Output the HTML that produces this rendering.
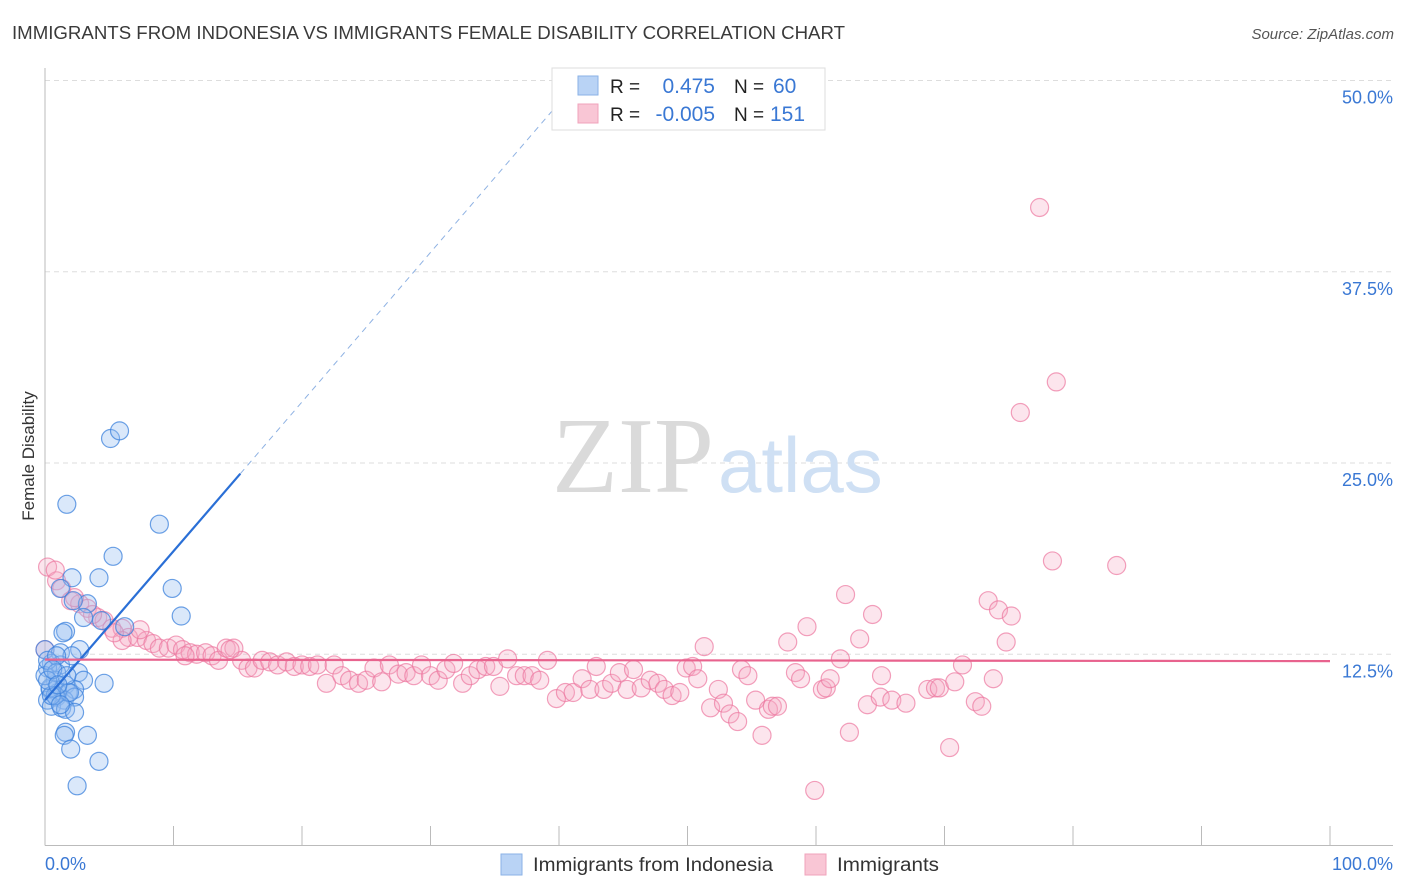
<!DOCTYPE html>
<html><head><meta charset="utf-8">
<style>
body{margin:0;background:#fff;font-family:"Liberation Sans",sans-serif;}
svg{display:block}
</style></head>
<body>
<svg id="chart" width="1406" height="892">
<text x="12" y="39" font-size="18" fill="#3a3a3a" textLength="833" lengthAdjust="spacingAndGlyphs">IMMIGRANTS FROM INDONESIA VS IMMIGRANTS FEMALE DISABILITY CORRELATION CHART</text>
<text x="1394" y="39" font-size="15" fill="#555" font-style="italic" text-anchor="end">Source: ZipAtlas.com</text>
<text x="34" y="456" font-size="17" fill="#333" text-anchor="middle" transform="rotate(-90 34 456)">Female Disability</text>
<g id="grid"></g>
<text x="714" y="492" font-size="108" fill="#dadada" text-anchor="end" font-family="Liberation Serif,serif">ZIP</text>
<text x="718" y="492" font-size="78" fill="#cfe0f4">atlas</text>
<g id="pink"></g>
<g id="blue"></g>
<g id="trend"></g>
<g>
<rect x="552" y="68" width="273" height="62" fill="#fff" stroke="#ddd"/>
<rect x="578" y="76" width="20" height="19" fill="#b9d3f5" stroke="#8ab2e6"/>
<rect x="578" y="104" width="20" height="19" fill="#f9c6d5" stroke="#f0a3bb"/>
<text x="610" y="93" font-size="19" fill="#222">R =</text>
<text x="715" y="93" font-size="21" fill="#3a78d4" text-anchor="end">0.475</text>
<text x="734" y="93" font-size="19" fill="#222">N =</text>
<text x="773" y="93" font-size="21" fill="#3a78d4">60</text>
<text x="610" y="121" font-size="19" fill="#222">R =</text>
<text x="715" y="121" font-size="21" fill="#3a78d4" text-anchor="end">-0.005</text>
<text x="734" y="121" font-size="19" fill="#222">N =</text>
<text x="770" y="121" font-size="21" fill="#3a78d4">151</text>
</g>
<g>
<rect x="501" y="854" width="21" height="21" fill="#b9d3f5" stroke="#8ab2e6"/>
<text x="533" y="871" font-size="19" fill="#333" textLength="240" lengthAdjust="spacingAndGlyphs">Immigrants from Indonesia</text>
<rect x="805" y="854" width="21" height="21" fill="#f9c6d5" stroke="#f0a3bb"/>
<text x="837" y="871" font-size="19" fill="#333" textLength="102" lengthAdjust="spacingAndGlyphs">Immigrants</text>
</g>
</svg>
<script>
const yTicks=[12.5,25,37.5,50];
const yTickLabels=["12.5%","25.0%","37.5%","50.0%"];
const xTickLabels=["0.0%","100.0%"];
const blueX=[5.1,5.8,1.7,8.9,5.3,2.1,4.2,9.9,1.2,10.6,3.3,2.2,3.0,1.6,6.2,1.4,4.4,2.7,0,1.2,0.5,1.2,2.1,0.2,2.6,0.8,3.0,1.6,0.4,1.0,1.8,2.3,4.6,0.2,0.9,1.5,2.3,0.5,1.3,1.6,2.3,0.4,0.8,1.9,0,0.2,0.9,1.6,3.3,1.5,2.0,4.2,2.5,0.9,0.5,1.2,0.2,0.6,1.7,1.0];
const blueY=[26.6,27.1,22.3,21.0,18.9,17.5,17.5,16.8,16.8,15.0,15.8,16.0,14.9,14.0,14.3,13.9,14.7,12.8,12.8,12.6,11.9,11.8,12.4,11.6,11.3,10.8,10.8,10.5,10.2,10.0,10.0,10.2,10.6,9.5,9.7,9.5,9.7,9.1,9.0,8.9,8.7,10.3,9.8,10.0,11.1,12.1,12.4,7.4,7.2,7.2,6.3,5.5,3.9,11.3,9.8,9.2,10.8,11.5,11.1,10.5];
const pinkX=[0.2,0.9,1.3,2.0,2.7,3.3,4.1,4.6,5.2,6.0,6.5,7.2,7.9,8.4,8.9,9.6,10.2,10.7,11.3,11.8,12.5,13.0,13.5,14.1,14.7,15.3,15.8,16.3,16.9,17.5,18.1,18.8,19.4,20.0,20.6,21.2,21.9,22.5,23.1,23.7,24.4,25.0,25.6,26.2,26.8,27.5,28.1,28.7,29.3,30.0,30.6,31.2,31.8,32.5,33.1,33.7,34.3,34.9,35.4,36.0,36.7,37.3,37.9,38.5,39.1,39.8,40.5,41.1,41.8,42.4,42.9,43.5,44.1,44.7,45.3,45.8,46.4,47.1,47.7,48.2,48.8,49.4,49.9,50.4,50.8,51.3,51.8,52.4,52.8,53.3,53.9,54.2,54.7,55.3,55.8,56.3,56.6,57.0,57.8,58.4,58.8,59.3,59.9,60.5,60.8,61.1,61.9,62.3,62.6,63.4,64.0,64.4,65.0,65.1,65.9,67.0,68.7,69.3,69.6,70.4,70.8,71.4,72.4,72.9,73.4,73.8,74.2,74.8,75.2,75.9,77.4,78.4,78.7,83.4,0,0.8,3.7,6.0,7.4,10.9,14.4,5.4,2.3];
const pinkY=[18.2,17.3,16.8,16.0,15.8,15.5,14.9,14.7,14.2,14.2,13.6,13.6,13.4,13.2,12.9,12.9,13.1,12.8,12.6,12.5,12.6,12.4,12.1,12.9,12.9,12.1,11.6,11.6,12.1,12.0,11.8,12.0,11.7,11.8,11.7,11.8,10.6,11.8,11.1,10.8,10.6,10.8,11.6,10.7,11.8,11.2,11.3,11.1,11.8,11.1,10.8,11.5,11.9,10.6,11.1,11.5,11.7,11.7,10.4,12.2,11.1,11.1,11.1,10.8,12.1,9.6,10.0,10.0,10.9,10.2,11.7,10.2,10.6,11.3,10.2,11.5,10.3,10.8,10.6,10.2,9.8,10.0,11.6,11.7,10.9,13.0,9.0,10.2,9.3,8.6,8.1,11.5,11.1,9.5,7.2,8.9,9.1,9.1,13.3,11.3,10.9,14.3,3.6,10.2,10.3,10.9,12.2,16.4,7.4,13.5,9.2,15.1,9.7,11.1,9.5,9.3,10.2,10.3,10.3,6.4,10.7,11.8,9.4,9.1,16.0,10.9,15.4,13.3,15.0,28.3,41.7,18.6,30.3,18.3,12.8,18.0,15.1,13.4,14.1,12.4,12.8,13.9,16.2];
const blueTrend=[[0,9.5],[15.2,24.3],[41.5,50]];
const pinkTrend=[[0,12.15],[100,12.05]];

const NS="http://www.w3.org/2000/svg";
const X0=45,X1=1330,Y0=845.5,YPER=15.3;
function sx(v){return X0+(X1-X0)*v/100;}
function sy(v){return Y0-v*YPER;}
function mk(tag,attrs,parent){const e=document.createElementNS(NS,tag);for(const k in attrs)e.setAttribute(k,attrs[k]);parent.appendChild(e);return e;}

const grid=document.getElementById('grid');
yTicks.forEach((t,i)=>{
  const l=mk('line',{x1:X0,x2:1393,y1:sy(t),y2:sy(t),stroke:'#ddd','stroke-dasharray':'5,4'},grid);
  
  
  const tx=mk('text',{x:1393,y:sy(t)+23,'font-size':18,fill:'#3a78d4','text-anchor':'end'},grid);
  tx.textContent=yTickLabels[i];
  
  
});
const ax=mk('line',{x1:X0,x2:X0,y1:68,y2:Y0,stroke:'#bbb'},grid);


const bx=mk('line',{x1:X0,x2:1393,y1:Y0,y2:Y0,stroke:'#bbb'},grid);


for(let i=0;i<=10;i++){
  const t=mk('line',{x1:sx(i*10),x2:sx(i*10),y1:826,y2:Y0,stroke:'#bbb'},grid);
  
  
}
const xl0=mk('text',{x:45,y:870,'font-size':18,fill:'#3a78d4'},grid);
xl0.textContent=xTickLabels[0];


const xl1=mk('text',{x:1393,y:870,'font-size':18,fill:'#3a78d4','text-anchor':'end'},grid);
xl1.textContent=xTickLabels[1];



const pg=document.getElementById('pink');
pinkX.forEach((v,i)=>{
  const c=mk('circle',{cx:sx(v),cy:sy(pinkY[i]),r:9,fill:'rgba(246,170,195,0.3)',stroke:'rgba(236,120,160,0.7)','stroke-width':1.2},pg);
  
  
});
const bg=document.getElementById('blue');
blueX.forEach((v,i)=>{
  const c=mk('circle',{cx:sx(v),cy:sy(blueY[i]),r:9,fill:'rgba(150,190,240,0.35)',stroke:'rgba(60,130,220,0.75)','stroke-width':1.2},bg);
  
  
});
const tg=document.getElementById('trend');
const b1=mk('line',{x1:sx(blueTrend[0][0]),y1:sy(blueTrend[0][1]),x2:sx(blueTrend[1][0]),y2:sy(blueTrend[1][1]),stroke:'#2a6fd6','stroke-width':2.2},tg);


const b2=mk('line',{x1:sx(blueTrend[1][0]),y1:sy(blueTrend[1][1]),x2:sx(blueTrend[2][0]),y2:sy(blueTrend[2][1]),stroke:'#8fb2e3','stroke-width':1,'stroke-dasharray':'6,5'},tg);


const p1=mk('line',{x1:sx(pinkTrend[0][0]),y1:sy(pinkTrend[0][1]),x2:sx(pinkTrend[1][0]),y2:sy(pinkTrend[1][1]),stroke:'#e8638e','stroke-width':2.2},tg);


</script>
</body></html>
